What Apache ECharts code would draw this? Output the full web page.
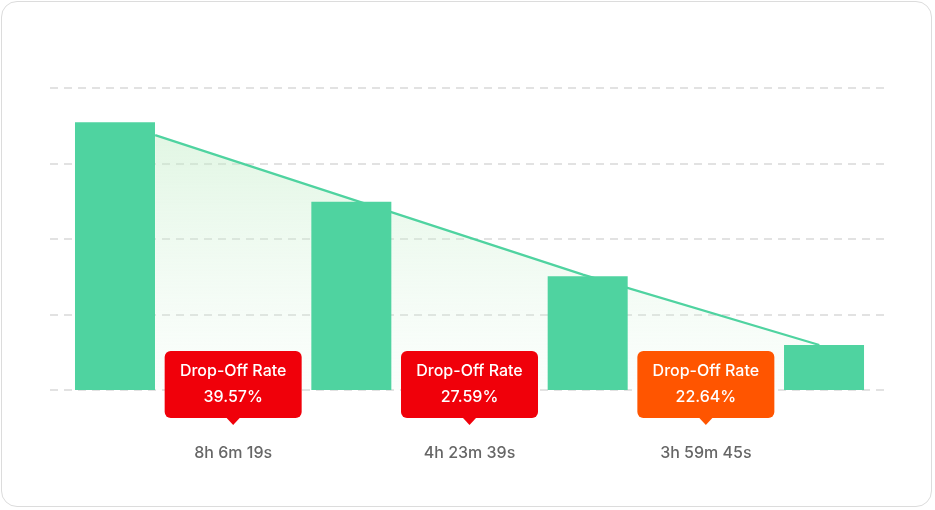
<!DOCTYPE html>
<html><head><meta charset="utf-8">
<script src="https://cdn.jsdelivr.net/npm/echarts@6/dist/echarts.min.js"></script>
<style>
html,body{margin:0;padding:0;background:#fff;}
#wrap{position:absolute;left:1px;top:1px;width:931px;height:506px;border:1px solid #dcdcdc;border-radius:16px;box-sizing:border-box;}
#c{position:absolute;left:0;top:0;width:935px;height:510px;}
</style></head><body>
<div id="wrap"></div><div id="c"></div>
<script>
const barPositions = [0, 1, 2, 3];
const barValues = [88.7, 62.3, 37.7, 14.9];
const trendLine = [[0.17, 84.4], [1.98, 38.2], [2.98, 14.9]];
const gapPositions = [0.5, 1.5, 2.5];
const dropRates = ['39.57%', '27.59%', '22.64%'];
const dropColors = ['#f0000a', '#f0000a', '#ff5500'];
const durations = ['8h 6m 19s', '4h 23m 39s', '3h 59m 45s'];

const chart = echarts.init(document.getElementById('c'));
chart.setOption({
  animation: false,
  grid: {left: 50, right: 50, top: 88, bottom: 120},
  xAxis: {type: 'value', min: -0.275, max: 3.258, show: false},
  yAxis: {type: 'value', min: 0, max: 100, interval: 25,
    axisLabel: {show: false}, axisLine: {show: false}, axisTick: {show: false},
    splitLine: {lineStyle: {type: [8, 6], color: '#e2e2e2', width: 2}}},
  series: [
    {type: 'line', data: trendLine, symbol: 'none', z: 1,
     lineStyle: {color: '#4fd3a0', width: 2.2},
     areaStyle: {color: new echarts.graphic.LinearGradient(0, 0, 0, 1, [
       {offset: 0, color: 'rgba(190,236,195,0.65)'}, {offset: 1, color: 'rgba(220,245,225,0.15)'}])}},
    {type: 'bar', data: barPositions.map((x, i) => [x, barValues[i]]), barWidth: 80, z: 2,
     itemStyle: {color: '#4fd3a0'}},
    {type: 'scatter', clip: false, z: 5, symbol: 'triangle', symbolRotate: 180, symbolSize: [13, 7],
     itemStyle: {opacity: 1},
     data: gapPositions.map((x, i) => ({value: [x, -10.4], itemStyle: {color: dropColors[i], opacity: 1}}))},
    {type: 'scatter', clip: false, z: 6, symbolSize: 0, itemStyle: {opacity: 1},
     data: gapPositions.map((x, i) => ({value: [x, 1.8],
       label: {show: true, position: 'inside', formatter: 'Drop-Off Rate\n' + dropRates[i],
         backgroundColor: dropColors[i], color: '#fff', fontSize: 16, lineHeight: 26, fontWeight: 500,
         fontFamily: 'Inter', width: 113, align: 'center', padding: [8, 12, 7, 12], borderRadius: 6}}))},
    {type: 'scatter', clip: false, z: 6, symbolSize: 0, itemStyle: {opacity: 1},
     data: gapPositions.map((x, i) => ({value: [x, -20.9],
       label: {show: true, position: 'inside', formatter: durations[i], color: '#666666',
         fontSize: 16, fontWeight: 500, fontFamily: 'Inter'}}))}
  ]
});
</script></body></html>
